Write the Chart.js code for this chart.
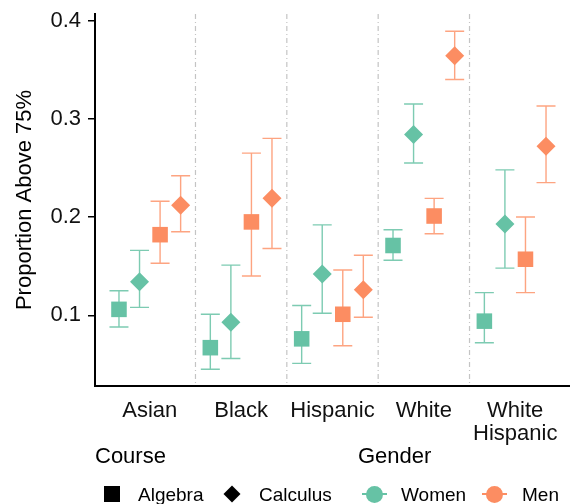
<!DOCTYPE html>
<html lang="en">
<head>
  <meta charset="UTF-8">
  <title>Proportion Above 75%</title>
  <script src="https://cdn.jsdelivr.net/npm/chart.js"></script>
  <style>
    html, body {
      margin: 0;
      padding: 0;
      background: #fff;
    }
    #wrap {
      position: relative;
      width: 570px;
      height: 504px;
      font-family: "Liberation Sans", Arial, sans-serif;
      color: #000;
    }
    .ttl {
      position: absolute;
      font-size: 22px;
      line-height: 22px;
    }
    .lab {
      position: absolute;
      font-size: 19px;
      line-height: 19px;
    }
    .key {
      position: absolute;
    }
  </style>
</head>
<body>
  <div id="wrap">
    <canvas id="chart" width="570" height="504"></canvas>

    <!-- legend: Course + Gender -->
    <div class="ttl" style="left:95px; top:445px;">Course</div>
    <div class="ttl" style="left:358px; top:445px;">Gender</div>

    <div class="key" style="left:104px; top:486px; width:16px; height:16px; background:#000;"></div>
    <div class="lab" style="left:138px; top:485px;">Algebra</div>
    <div class="key" style="left:226px; top:488px; width:12px; height:12px; background:#000; transform:rotate(45deg);"></div>
    <div class="lab" style="left:259px; top:485px;">Calculus</div>

    <div class="key" style="left:362px; top:493px; width:25px; height:1.5px; background:#66c2a5;"></div>
    <div class="key" style="left:366px; top:486px; width:17px; height:17px; border-radius:50%; background:#66c2a5;"></div>
    <div class="lab" style="left:401px; top:485px;">Women</div>
    <div class="key" style="left:482px; top:493px; width:25px; height:1.5px; background:#fc8d62;"></div>
    <div class="key" style="left:486px; top:486px; width:17px; height:17px; border-radius:50%; background:#fc8d62;"></div>
    <div class="lab" style="left:522px; top:485px;">Men</div>
  </div>

  <script>
    const categories = ["Asian", "Black", "Hispanic", "White", ["White", "Hispanic"]];
    const yTicks = [0.1, 0.2, 0.3, 0.4];

    const womenAlgebra     = [0.106, 0.067, 0.076, 0.171, 0.094];
    const womenAlgebraLow  = [0.088, 0.045, 0.051, 0.156, 0.072];
    const womenAlgebraHigh = [0.125, 0.101, 0.110, 0.187, 0.123];

    const womenCalculus     = [0.134, 0.093, 0.142, 0.284, 0.193];
    const womenCalculusLow  = [0.108, 0.056, 0.102, 0.255, 0.148];
    const womenCalculusHigh = [0.166, 0.151, 0.192, 0.315, 0.248];

    const menAlgebra     = [0.182, 0.195, 0.101, 0.201, 0.157];
    const menAlgebraLow  = [0.153, 0.140, 0.069, 0.183, 0.123];
    const menAlgebraHigh = [0.216, 0.265, 0.146, 0.219, 0.200];

    const menCalculus     = [0.212, 0.219, 0.126, 0.364, 0.272];
    const menCalculusLow  = [0.185, 0.168, 0.098, 0.340, 0.235];
    const menCalculusHigh = [0.242, 0.280, 0.161, 0.389, 0.313];

    // dodge offsets for the four groups inside a category
    const dodge = [-0.3375, -0.1125, 0.1125, 0.3375];

    const WOMEN = "#66c2a5";
    const MEN = "#fc8d62";

    function pts(values, k) {
      return values.map((v, i) => ({ x: i + 1 + dodge[k], y: v }));
    }

    const series = [
      { label: "Women Algebra", data: womenAlgebra, lo: womenAlgebraLow, hi: womenAlgebraHigh, color: WOMEN, bar: "rgba(102,194,165,0.85)", style: "rect", r: 11 },
      { label: "Women Calculus", data: womenCalculus, lo: womenCalculusLow, hi: womenCalculusHigh, color: WOMEN, bar: "rgba(102,194,165,0.85)", style: "rectRot", r: 9.5 },
      { label: "Men Algebra", data: menAlgebra, lo: menAlgebraLow, hi: menAlgebraHigh, color: MEN, bar: "rgba(252,141,98,0.8)", style: "rect", r: 11 },
      { label: "Men Calculus", data: menCalculus, lo: menCalculusLow, hi: menCalculusHigh, color: MEN, bar: "rgba(252,141,98,0.8)", style: "rectRot", r: 9.5 }
    ];

    // dot-dash separators between categories + error bars, under the points
    const underlay = {
      id: "underlay",
      beforeDatasetsDraw(chart) {
        const { ctx, chartArea, scales } = chart;
        ctx.save();
        ctx.strokeStyle = "#c4c4c4";
        ctx.lineWidth = 1.2;
        ctx.setLineDash([5, 3, 1, 3]);
        for (let i = 1; i < categories.length; i++) {
          const x = scales.x.getPixelForValue(i + 0.5);
          ctx.beginPath();
          ctx.moveTo(x, chartArea.top);
          ctx.lineTo(x, chartArea.bottom);
          ctx.stroke();
        }
        ctx.setLineDash([]);
        ctx.lineWidth = 1.4;
        series.forEach((s, k) => {
          ctx.strokeStyle = s.bar;
          s.data.forEach((v, i) => {
            const x = scales.x.getPixelForValue(i + 1 + dodge[k]);
            const y1 = scales.y.getPixelForValue(s.lo[i]);
            const y2 = scales.y.getPixelForValue(s.hi[i]);
            ctx.beginPath();
            ctx.moveTo(x, y1); ctx.lineTo(x, y2);
            ctx.moveTo(x - 9.5, y1); ctx.lineTo(x + 9.5, y1);
            ctx.moveTo(x - 9.5, y2); ctx.lineTo(x + 9.5, y2);
            ctx.stroke();
          });
        });
        ctx.restore();
      }
    };

    new Chart(document.getElementById("chart"), {
      type: "scatter",
      data: {
        datasets: series.map((s, k) => ({
          label: s.label,
          data: pts(s.data, k),
          pointStyle: s.style,
          pointRadius: s.r,
          pointHoverRadius: s.r,
          backgroundColor: s.color,
          borderColor: s.color,
          borderWidth: 0,
          clip: false
        }))
      },
      options: {
        responsive: false,
        animation: false,
        layout: { autoPadding: false, padding: { top: 14, left: 0, right: 0, bottom: 0 } },
        plugins: { legend: { display: false }, tooltip: { enabled: false } },
        scales: {
          x: {
            type: "linear",
            min: 0.4,
            max: 5.6,
            afterFit: (scale) => {
              scale.height = 118;
              scale.paddingLeft = 0;
              scale.paddingRight = 0;
            },
            afterBuildTicks: (scale) => { scale.ticks = categories.map((c, i) => ({ value: i + 1 })); },
            grid: { display: false },
            border: { color: "#000", width: 2 },
            ticks: {
              padding: 5,
              maxRotation: 0,
              color: "#111",
              font: { family: "Liberation Sans", size: 22, lineHeight: 1.05 },
              callback: (v) => categories[v - 1]
            }
          },
          y: {
            min: 0.028,
            max: 0.4066,
            afterFit: (scale) => {
              scale.width = 95;
              scale.paddingTop = 0;
              scale.paddingBottom = 0;
            },
            afterBuildTicks: (scale) => { scale.ticks = yTicks.map(v => ({ value: v })); },
            grid: { drawOnChartArea: false, drawTicks: true, tickLength: 7, tickColor: "#000", lineWidth: 1.5 },
            border: { color: "#000", width: 2 },
            ticks: {
              padding: 7,
              color: "#111",
              font: { family: "Liberation Sans", size: 22 },
              callback: (v) => v.toFixed(1)
            },
            title: {
              display: true,
              text: "Proportion Above 75%",
              color: "#000",
              padding: { top: 12, bottom: 0 },
              font: { family: "Liberation Sans", size: 22 }
            }
          }
        }
      },
      plugins: [underlay]
    });
  </script>
</body>
</html>
